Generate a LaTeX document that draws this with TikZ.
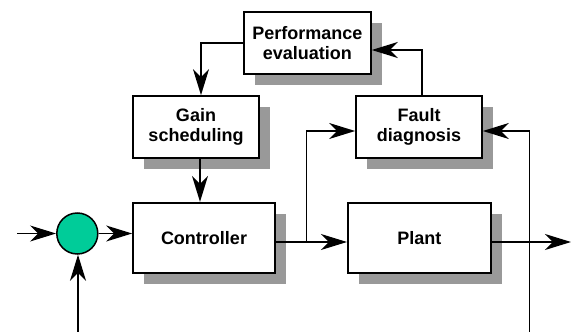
\documentclass[tikz,border=0pt]{standalone}
\usepackage{fontspec}
\setmainfont{Liberation Sans}
\usetikzlibrary{arrows.meta,shadows}
\definecolor{sumgreen}{RGB}{0,204,153}
\tikzset{
	blk/.style={draw,line width=1.7pt,fill=white,align=center,inner sep=0pt,
		font=\fontsize{18}{20.5}\selectfont\bfseries,
		drop shadow={shadow xshift=11pt,shadow yshift=-11pt,fill=black!40,opacity=1}},
	con/.style={line width=1.5pt,-{Stealth[length=26pt,width=16pt,inset=8pt]}}
}
\begin{document}
\begin{tikzpicture}[x=1pt,y=-1pt]
		\useasboundingbox (0,0) rectangle (571,332);
		\node[blk,minimum width=127pt,minimum height=62pt] (perf) at (307.4,43) {Performance\\evaluation};
		\node[blk,minimum width=126pt,minimum height=62pt] (gain) at (196,127) {Gain\\scheduling};
		\node[blk,minimum width=126pt,minimum height=62pt] (fault) at (419,127) {Fault\\diagnosis};
		\node[blk,minimum width=142pt,minimum height=70pt] (ctrl) at (204,237.7) {Controller};
		\node[blk,minimum width=143pt,minimum height=70pt] (plant) at (419.3,237.7) {Plant};
		\node[circle,draw,fill=sumgreen,line width=1.5pt,minimum size=41pt,inner sep=0pt] (sum) at (77.3,233.5) {};
		\coordinate (in) at (17,233.5);
		\coordinate (fb) at (78,332);
		\coordinate (tap) at (306.7,242);
		\coordinate (out) at (571,242);
		\coordinate (meas) at (529.3,332);
		\draw[con] (in)--(sum);
		\draw[con] (sum)--(sum-|ctrl.west);
		\draw[con] (fb)--(fb|-sum.south);
		\draw[con] ([xshift=4pt]gain.south)--([xshift=4pt]gain.south|-ctrl.north);
		\draw[con] (perf.west)-|([xshift=5pt]gain.north);
		\draw[con] ([xshift=3pt]fault.north)|-([yshift=-7pt]perf.east);
		\draw[con] (ctrl.east|-tap)--(plant.west|-tap);
		\draw[con] (tap)|-([yshift=-4pt]fault.west);
		\draw[con] (plant.east|-out)--(out);
		\draw[con] (meas)|-([yshift=-4pt]fault.east);
	\end{tikzpicture}
\end{document}
